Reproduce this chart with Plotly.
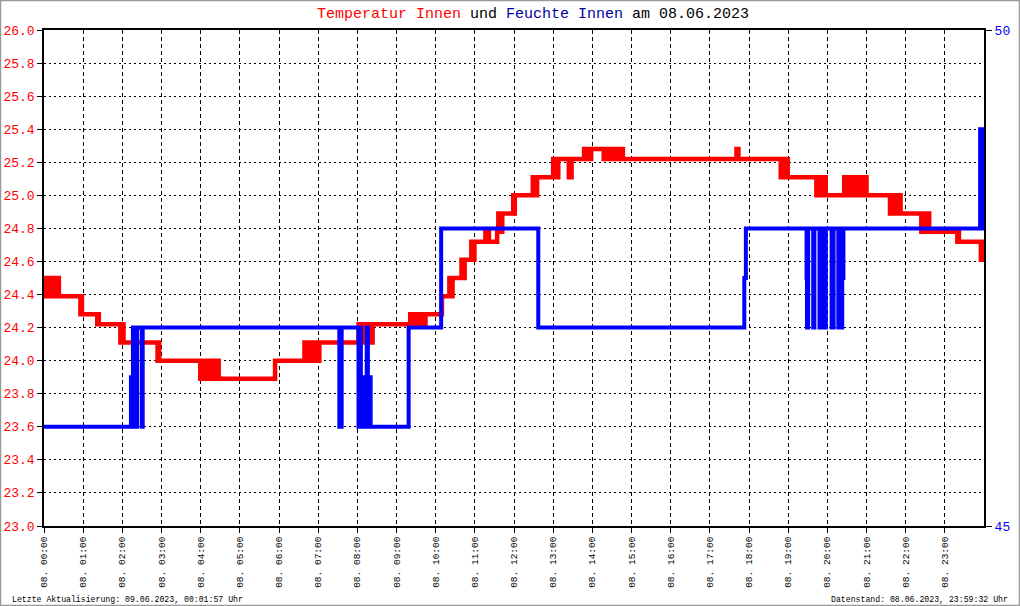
import plotly.graph_objects as go

# ---- data (hours since midnight) ----
temp_times = [0.00, 0.04, 0.07, 0.10, 0.13, 0.17, 0.20, 0.24, 0.27, 0.31, 0.34, 0.38,
              0.93, 0.95, 0.97,
              1.36, 1.38, 1.40,
              1.95, 1.97, 1.99, 2.01, 2.03,
              2.90, 2.92, 2.94,
              3.99, 4.03, 4.06, 4.10, 4.14, 4.18, 4.22, 4.26, 4.30, 4.34, 4.38, 4.42, 4.46,
              5.90,
              6.65, 6.68, 6.72, 6.76, 6.80, 6.84, 6.88, 6.92, 6.96, 7.00, 7.03,
              8.03, 8.06, 8.10, 8.14, 8.18, 8.22, 8.26, 8.30, 8.34, 8.37, 8.39,
              9.35, 9.38, 9.42, 9.46, 9.50, 9.54, 9.58, 9.62, 9.66, 9.70, 9.74,
              10.16,
              10.35, 10.37, 10.39, 10.41, 10.43,
              10.66, 10.68, 10.70, 10.72, 10.74,
              10.91, 10.93, 10.95, 10.97, 10.99,
              11.27, 11.30, 11.33, 11.36,
              11.57, 11.60, 11.62, 11.65, 11.67, 11.70,
              11.98, 12.00, 12.02,
              12.48, 12.50, 12.53, 12.56, 12.59,
              13.00, 13.03, 13.06, 13.10, 13.13, 13.40, 13.47,
              13.79, 13.82, 13.85, 13.88, 13.91, 13.94, 13.97,
              14.29, 14.32, 14.36, 14.40, 14.45, 14.48, 14.55, 14.58, 14.62, 14.66, 14.70, 14.74, 14.78,
              17.68, 17.73,
              18.81, 18.84, 18.87, 18.90, 18.93, 18.96, 18.99,
              19.72, 19.75, 19.78, 19.81, 19.84, 19.87, 19.90, 19.93, 19.96,
              20.43, 20.46, 20.50, 20.54, 20.58, 20.62, 20.66, 20.70, 20.74, 20.78, 20.82, 20.86,
              20.90, 20.94, 20.97, 21.00,
              21.60, 21.63, 21.66, 21.70, 21.74, 21.78, 21.82, 21.85, 21.87,
              22.40, 22.43, 22.46, 22.50, 22.54, 22.58, 22.60,
              23.32, 23.34, 23.36,
              23.92, 23.94, 23.96, 23.98, 24.00]
temp_values = [24.50, 24.39, 24.50, 24.39, 24.50, 24.39, 24.50, 24.39, 24.50, 24.39, 24.50, 24.39,
               24.28, 24.39, 24.28,
               24.22, 24.28, 24.22,
               24.11, 24.22, 24.11, 24.22, 24.11,
               24.00, 24.11, 24.00,
               23.89, 24.00, 23.89, 24.00, 23.89, 24.00, 23.89, 24.00, 23.89, 24.00, 23.89, 24.00, 23.89,
               24.00,
               24.11, 24.00, 24.11, 24.00, 24.11, 24.00, 24.11, 24.00, 24.11, 24.00, 24.11,
               24.22, 24.11, 24.22, 24.11, 24.22, 24.11, 24.22, 24.11, 24.22, 24.11, 24.22,
               24.28, 24.22, 24.28, 24.22, 24.28, 24.22, 24.28, 24.22, 24.28, 24.22, 24.28,
               24.39,
               24.50, 24.39, 24.50, 24.39, 24.50,
               24.61, 24.50, 24.61, 24.50, 24.61,
               24.72, 24.61, 24.72, 24.61, 24.72,
               24.78, 24.72, 24.78, 24.72,
               24.78, 24.89, 24.78, 24.89, 24.78, 24.89,
               25.00, 24.89, 25.00,
               25.11, 25.00, 25.11, 25.00, 25.11,
               25.22, 25.11, 25.22, 25.11, 25.22, 25.11, 25.22,
               25.28, 25.22, 25.28, 25.22, 25.28, 25.22, 25.28,
               25.22, 25.28, 25.22, 25.28, 25.22, 25.28, 25.22, 25.28, 25.22, 25.28, 25.22, 25.28, 25.22,
               25.28, 25.22,
               25.11, 25.22, 25.11, 25.22, 25.11, 25.22, 25.11,
               25.00, 25.11, 25.00, 25.11, 25.00, 25.11, 25.00, 25.11, 25.00,
               25.11, 25.00, 25.11, 25.00, 25.11, 25.00, 25.11, 25.00, 25.11, 25.00, 25.11, 25.00,
               25.11, 25.00, 25.11, 25.00,
               24.89, 25.00, 24.89, 25.00, 24.89, 25.00, 24.89, 25.00, 24.89,
               24.78, 24.89, 24.78, 24.89, 24.78, 24.89, 24.78,
               24.72, 24.78, 24.72,
               24.61, 24.72, 24.61, 24.72, 24.61]

hum_times = [0.00,
             2.22, 2.25, 2.27, 2.30, 2.33, 2.36, 2.38, 2.50, 2.52,
             7.54, 7.60,
             8.03, 8.06, 8.09, 8.12, 8.15, 8.18, 8.21, 8.24, 8.27, 8.30, 8.34,
             9.31, 10.14, 12.62, 17.88, 17.92,
             19.47, 19.48, 19.51, 19.64, 19.67,
             19.80, 19.84, 19.86, 19.90, 19.92, 19.96,
             20.11, 20.16, 20.28, 20.32, 20.34, 20.38, 20.41,
             23.90, 23.92, 23.94, 23.96, 23.98, 24.00]
hum_values = [46.0,
              46.5, 46.0, 47.0, 46.0, 47.0, 46.0, 47.0, 46.0, 47.0,
              46.0, 47.0,
              46.0, 47.0, 46.0, 46.5, 46.0, 46.5, 46.0, 47.0, 46.0, 46.5, 46.0,
              47.0, 48.0, 47.0, 47.5, 48.0,
              47.5, 47.0, 48.0, 47.0, 48.0,
              47.0, 48.0, 47.0, 48.0, 47.0, 48.0,
              47.0, 48.0, 47.0, 48.0, 47.0, 47.5, 48.0,
              49.0, 48.0, 49.0, 48.0, 49.0, 49.0]

hour_ticks = list(range(24))
hour_labels = ["08. %02d:00" % h for h in hour_ticks]
temp_ticks = [23.0, 23.2, 23.4, 23.6, 23.8, 24.0, 24.2, 24.4, 24.6, 24.8,
              25.0, 25.2, 25.4, 25.6, 25.8, 26.0]
hum_ticks = [45, 50]

title_html = ('<span style="color:#ff0000">Temperatur Innen</span> und '
              '<span style="color:#0000a0">Feuchte Innen</span> am 08.06.2023')
footer_left = "Letzte Aktualisierung: 09.06.2023, 00:01:57 Uhr"
footer_right = "Datenstand: 08.06.2023, 23:59:32 Uhr"

FONT = "Liberation Mono, DejaVu Sans Mono, monospace"

fig = go.Figure()
fig.add_trace(go.Scatter(x=hum_times, y=hum_values, mode="lines", yaxis="y2",
                         line=dict(color="#0000ff", width=4, shape="hv"),
                         showlegend=False, hoverinfo="skip"))
fig.add_trace(go.Scatter(x=temp_times, y=temp_values, mode="lines",
                         line=dict(color="#ff0000", width=4.5, shape="hv"),
                         showlegend=False, hoverinfo="skip"))

L, R, T, B, W, H = 44, 36, 30, 80, 1020, 606
pw, ph = W - L - R, H - T - B

def px(x):
    return (x - L) / pw

def py(y):
    return (H - B - y) / ph

fig.update_layout(
    width=W, height=H, autosize=False,
    margin=dict(l=L, r=R, t=T, b=B, pad=0, autoexpand=False),
    paper_bgcolor="white", plot_bgcolor="white",
    font=dict(family=FONT, color="black"),
    xaxis=dict(range=[0, 24], tickvals=hour_ticks, ticktext=hour_labels,
               tickangle=-90, tickfont=dict(size=9.5, color="black", family=FONT),
               ticks="outside", ticklen=5, tickcolor="black", automargin=False,
               showgrid=True, gridcolor="black", gridwidth=1, griddash="4px,3px",
               showline=True, linecolor="black", linewidth=1.5, mirror=True,
               zeroline=False, fixedrange=True),
    yaxis=dict(range=[23, 26], tickvals=temp_ticks, tickformat=".1f",
               tickfont=dict(size=13, color="#ff0000", family=FONT),
               ticks="outside", ticklen=5, tickcolor="black", automargin=False,
               showgrid=True, gridcolor="black", gridwidth=1, griddash="2px,3px",
               showline=True, linecolor="black", linewidth=1.5, mirror=True,
               zeroline=False, fixedrange=True),
    yaxis2=dict(range=[45, 50], tickvals=hum_ticks, overlaying="y", side="right",
                tickfont=dict(size=13, color="#0000ff", family=FONT),
                ticks="outside", ticklen=7, tickcolor="black", automargin=False,
                showgrid=False, showline=False, zeroline=False, fixedrange=True),
    annotations=[
        dict(text=title_html, xref="paper", yref="paper", x=px(533), y=py(14),
             xanchor="center", yanchor="middle", showarrow=False,
             font=dict(size=15, family=FONT, color="black")),
        dict(text=footer_left, xref="paper", yref="paper", x=px(10), y=py(599),
             xanchor="left", yanchor="middle", showarrow=False,
             font=dict(size=8.2, family=FONT, color="black")),
        dict(text=footer_right, xref="paper", yref="paper", x=px(1010), y=py(599),
             xanchor="right", yanchor="middle", showarrow=False,
             font=dict(size=8.2, family=FONT, color="black")),
    ],
    shapes=[dict(type="rect", xref="paper", yref="paper",
                 x0=px(0.5), x1=px(1019.5), y0=py(605.5), y1=py(0.5),
                 line=dict(color="#999999", width=1.5), layer="above")],
)

fig.write_html("out.html", config={"displayModeBar": False},
               post_script="document.body.style.margin='0';")
